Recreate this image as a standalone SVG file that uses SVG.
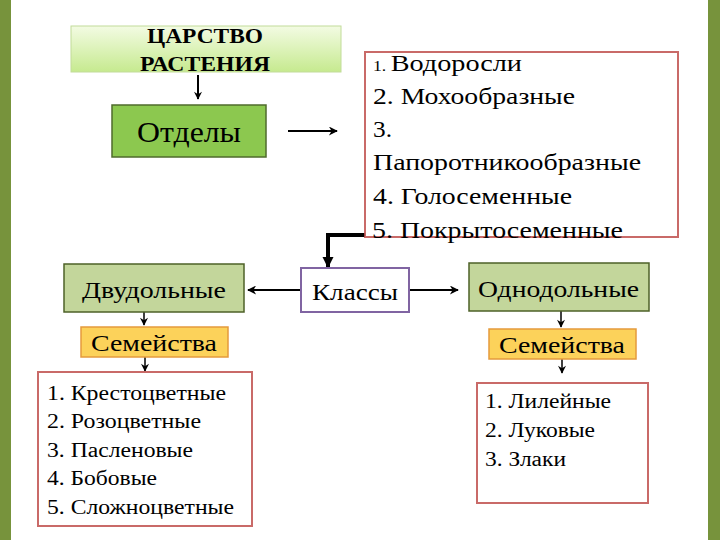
<svg xmlns="http://www.w3.org/2000/svg" width="720" height="540" viewBox="0 0 720 540">
<defs>
<linearGradient id="gTop" x1="0" y1="0" x2="0" y2="1">
<stop offset="0" stop-color="#f3fbe3"/>
<stop offset="1" stop-color="#c6ea8f"/>
</linearGradient>
<marker id="ah" viewBox="0 0 10 10" refX="9" refY="5" markerWidth="11" markerHeight="9" orient="auto" markerUnits="userSpaceOnUse">
<path d="M0,0 L10,5 L0,10 L3,5 z" fill="#000"/>
</marker>
<marker id="ahS" viewBox="0 0 10 10" refX="9" refY="5" markerWidth="9" markerHeight="8" orient="auto" markerUnits="userSpaceOnUse">
<path d="M0,0 L10,5 L0,10 L3,5 z" fill="#000"/>
</marker>
<marker id="ahB" viewBox="0 0 10 10" refX="9" refY="5" markerWidth="11" markerHeight="18" orient="auto" markerUnits="userSpaceOnUse">
<path d="M0,0 L10,5 L0,10 z" fill="#000"/>
</marker>
</defs>
<style>
text{font-family:'Liberation Serif','DejaVu Serif',serif;fill:#000}
.l1{font-size:24px}
.l2{font-size:20px}
.conn{stroke:#000;stroke-width:2;fill:none}
.thin{stroke-width:1.5}
.listbox{fill:#fff;stroke:#c0504d;stroke-opacity:0.85;stroke-width:2}
.classbox{fill:#c3d69b;stroke:#4e6128;stroke-width:1.5}
.famBox{fill:#fcd25a;stroke:#e59a3c;stroke-width:1.5}
</style>
<rect width="720" height="540" fill="#fff"/>
<rect x="0" y="0" width="11" height="540" fill="#77933c"/>
<rect x="708" y="0" width="12" height="540" fill="#77933c"/>

<g id="connectors">
<line class="conn" x1="198" y1="75" x2="198" y2="99" marker-end="url(#ahS)"/>
<line class="conn" x1="288" y1="131" x2="337" y2="131" marker-end="url(#ah)"/>
<polyline class="conn" points="365,235 328,235 328,267" style="stroke-width:4" marker-end="url(#ahB)"/>
<line class="conn" x1="301" y1="290" x2="248" y2="290" marker-end="url(#ah)"/>
<line class="conn" x1="410" y1="290" x2="458" y2="290" marker-end="url(#ah)"/>
<line class="conn thin" x1="144" y1="312" x2="144" y2="325" marker-end="url(#ahS)"/>
<line class="conn thin" x1="145" y1="357" x2="145" y2="371" marker-end="url(#ahS)"/>
<line class="conn thin" x1="561" y1="311" x2="561" y2="327" marker-end="url(#ahS)"/>
<line class="conn thin" x1="562" y1="359" x2="562" y2="373" marker-end="url(#ahS)"/>
</g>

<g id="kingdom">
<rect x="71" y="26" width="270" height="46" fill="url(#gTop)" stroke="#c2dc9a" stroke-width="1"/>
<text x="205" y="43" font-size="21" font-weight="bold" text-anchor="middle" textLength="116" lengthAdjust="spacingAndGlyphs">ЦАРСТВО</text>
<text x="205" y="71" font-size="21" font-weight="bold" text-anchor="middle" textLength="130" lengthAdjust="spacingAndGlyphs">РАСТЕНИЯ</text>
</g>

<g id="otdely">
<rect x="112" y="105" width="154" height="52" fill="#8cc84f" stroke="#4f6b2c" stroke-width="1.5"/>
<text x="189" y="142" font-size="30" text-anchor="middle" textLength="104" lengthAdjust="spacingAndGlyphs">Отделы</text>
</g>

<g id="divisions">
<rect class="listbox" x="365" y="52" width="313" height="185"/>
<text class="l1" x="373" y="71" textLength="149" lengthAdjust="spacingAndGlyphs"><tspan font-size="15">1. </tspan>Водоросли</text>
<text class="l1" x="373" y="104" textLength="202" lengthAdjust="spacingAndGlyphs">2. Мохообразные</text>
<text class="l1" x="373" y="137" textLength="19" lengthAdjust="spacingAndGlyphs">3.</text>
<text class="l1" x="373" y="170" textLength="268" lengthAdjust="spacingAndGlyphs">Папоротникообразные</text>
<text class="l1" x="373" y="204" textLength="199" lengthAdjust="spacingAndGlyphs">4. Голосеменные</text>
<text class="l1" x="372" y="238" textLength="251" lengthAdjust="spacingAndGlyphs">5. Покрытосеменные</text>
</g>

<g id="classes">
<rect x="301" y="268" width="108" height="44" fill="#fff" stroke="#8064a2" stroke-width="2"/>
<text x="355" y="300" font-size="24" text-anchor="middle" textLength="86" lengthAdjust="spacingAndGlyphs">Классы</text>
</g>

<g id="dicots">
<rect class="classbox" x="64" y="264" width="180" height="48"/>
<text x="154" y="298" font-size="24" text-anchor="middle" textLength="144" lengthAdjust="spacingAndGlyphs">Двудольные</text>
</g>

<g id="monocots">
<rect class="classbox" x="469" y="263" width="180" height="48"/>
<text x="558.5" y="297" font-size="24" text-anchor="middle" textLength="161" lengthAdjust="spacingAndGlyphs">Однодольные</text>
</g>

<g id="families-left">
<rect class="famBox" x="81" y="327" width="147" height="30"/>
<text x="154" y="351" font-size="23" text-anchor="middle" textLength="126" lengthAdjust="spacingAndGlyphs">Семейства</text>
</g>

<g id="families-right">
<rect class="famBox" x="489" y="329" width="147" height="30"/>
<text x="562" y="353" font-size="23" text-anchor="middle" textLength="126" lengthAdjust="spacingAndGlyphs">Семейства</text>
</g>

<g id="dicot-list">
<rect class="listbox" x="38" y="372" width="214" height="154"/>
<text class="l2" x="47" y="400" textLength="179" lengthAdjust="spacingAndGlyphs">1. Крестоцветные</text>
<text class="l2" x="47" y="428" textLength="154" lengthAdjust="spacingAndGlyphs">2. Розоцветные</text>
<text class="l2" x="47" y="457" textLength="146" lengthAdjust="spacingAndGlyphs">3. Пасленовые</text>
<text class="l2" x="47" y="485" textLength="110" lengthAdjust="spacingAndGlyphs">4. Бобовые</text>
<text class="l2" x="47" y="514" textLength="187" lengthAdjust="spacingAndGlyphs">5. Сложноцветные</text>
</g>

<g id="monocot-list">
<rect class="listbox" x="477" y="383" width="171" height="120"/>
<text class="l2" x="485" y="408" textLength="126" lengthAdjust="spacingAndGlyphs">1. Лилейные</text>
<text class="l2" x="485" y="437" textLength="110" lengthAdjust="spacingAndGlyphs">2. Луковые</text>
<text class="l2" x="485" y="466" textLength="81" lengthAdjust="spacingAndGlyphs">3. Злаки</text>
</g>
</svg>
